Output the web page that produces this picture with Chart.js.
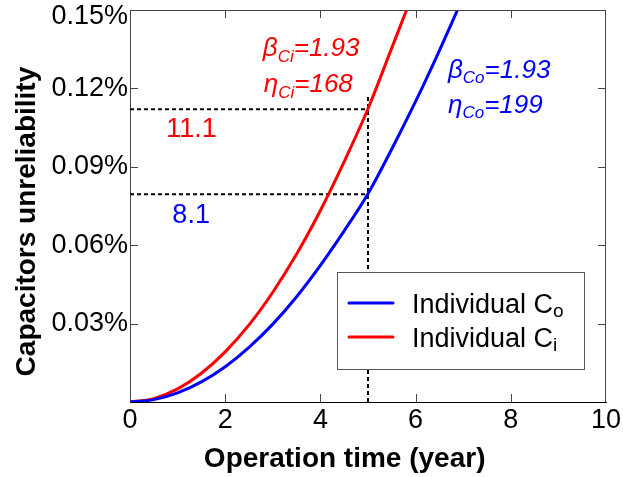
<!DOCTYPE html>
<html><head><meta charset="utf-8">
<script src="https://cdn.jsdelivr.net/npm/chart.js@4.4.1/dist/chart.umd.min.js"></script>
<style>html,body{margin:0;padding:0;background:#fff}</style>
</head><body>
<canvas id="c" width="623" height="477" style="display:block;width:623px;height:477px"></canvas>
<script>
// ---- data ----
const timeCo  = [0, 0.5, 1, 1.5, 2, 2.5, 3, 3.5, 4, 4.5, 5, 5.5, 6, 6.5, 6.88];
const unrelCo = [0, 0.0009, 0.0035, 0.0077, 0.0135, 0.0209, 0.0298, 0.0403, 0.0523, 0.0655, 0.0797, 0.0968, 0.1150, 0.1345, 0.1500];
const timeCi  = [0, 0.5, 1, 1.5, 2, 2.5, 3, 3.5, 4, 4.5, 5, 5.5, 5.81];
const unrelCi = [0, 0.0013, 0.0050, 0.0110, 0.0192, 0.0295, 0.0420, 0.0566, 0.0733, 0.0920, 0.1122, 0.1355, 0.1500];
const refTime = 5;
const refCi = 0.1120;
const refCo = 0.0795;
const refTop = 0.1175;
const xTicks = [0, 2, 4, 6, 8, 10];
const yTicks = [0, 0.03, 0.06, 0.09, 0.12, 0.15];
const seriesLabels = ['Individual Co', 'Individual Ci'];
const refLabelCi = '11.1';
const refLabelCo = '8.1';

const FONT = "'Liberation Sans', Arial, Helvetica, sans-serif";
const toXY = (xs, ys) => xs.map((v, i) => ({x: v, y: ys[i]}));
const yMax = yTicks[yTicks.length - 1];

const decor = {
  id: 'decor',
  afterDatasetsDraw(chart) {
    const {ctx, chartArea: a, scales: {x, y}} = chart;
    ctx.save();
    ctx.strokeStyle = '#444';
    ctx.lineWidth = 1;
    ctx.beginPath();
    ctx.moveTo(a.left, a.top + 0.5); ctx.lineTo(a.right, a.top + 0.5);
    ctx.moveTo(a.right - 0.5, a.top); ctx.lineTo(a.right - 0.5, a.bottom);
    xTicks.slice(1, -1).forEach(v => {
      const px = Math.round(x.getPixelForValue(v)) + 0.5;
      ctx.moveTo(px, a.bottom); ctx.lineTo(px, a.bottom - 8);
      ctx.moveTo(px, a.top); ctx.lineTo(px, a.top + 8);
    });
    yTicks.slice(1, -1).forEach(v => {
      const py = Math.round(y.getPixelForValue(v)) + 0.5;
      ctx.moveTo(a.left, py); ctx.lineTo(a.left + 8, py);
      ctx.moveTo(a.right, py); ctx.lineTo(a.right - 8, py);
    });
    ctx.stroke();

    // annotations
    const drawParts = (parts, px, py, color) => {
      ctx.fillStyle = color;
      ctx.textAlign = 'left';
      ctx.textBaseline = 'alphabetic';
      let cx = px;
      parts.forEach(p => {
        ctx.font = p.f;
        ctx.fillText(p.t, cx, py + (p.dy || 0));
        cx += ctx.measureText(p.t).width;
      });
    };
    const it = "italic 26px " + FONT, sub = "italic 17px " + FONT, reg = "27px " + FONT;
    drawParts([{t: 'β', f: it}, {t: 'Ci', f: sub, dy: 6}, {t: '=1.93', f: it}], x.getPixelForValue(2.79), y.getPixelForValue(0.1325), '#ff0000');
    drawParts([{t: 'η', f: it}, {t: 'Ci', f: sub, dy: 6}, {t: '=168', f: it}], x.getPixelForValue(2.81), y.getPixelForValue(0.1187), '#ff0000');
    drawParts([{t: 'β', f: it}, {t: 'Co', f: sub, dy: 5}, {t: '=1.93', f: it}], x.getPixelForValue(6.68), y.getPixelForValue(0.1240), '#0000ff');
    drawParts([{t: 'η', f: it}, {t: 'Co', f: sub, dy: 5}, {t: '=199', f: it}], x.getPixelForValue(6.68), y.getPixelForValue(0.1106), '#0000ff');
    drawParts([{t: refLabelCi, f: reg}], x.getPixelForValue(0.76), y.getPixelForValue(0.1014), '#ff0000');
    drawParts([{t: refLabelCo, f: reg}], x.getPixelForValue(0.89), y.getPixelForValue(0.0685), '#0000ff');

    // legend
    const lx = a.left + 207, ly = a.top + 262, lw = 247, lh = 97;
    ctx.fillStyle = '#fff';
    ctx.fillRect(lx, ly, lw, lh);
    ctx.strokeStyle = '#555';
    ctx.lineWidth = 1;
    ctx.strokeRect(lx + 0.5, ly + 0.5, lw, lh);
    const entries = [
      {c: '#0000ff', main: 'Individual C', s: 'o', yy: ly + 31},
      {c: '#ff0000', main: 'Individual C', s: 'i', yy: ly + 65}
    ];
    entries.forEach(e => {
      ctx.strokeStyle = e.c; ctx.lineWidth = 3; ctx.lineCap = 'round';
      ctx.beginPath(); ctx.moveTo(lx + 12, e.yy); ctx.lineTo(lx + 56, e.yy); ctx.stroke();
      drawParts([{t: e.main, f: reg}, {t: e.s, f: "19px " + FONT, dy: 4}], lx + 75, e.yy + 10, '#000');
    });
    ctx.restore();
  }
};

new Chart(document.getElementById('c'), {
  type: 'line',
  data: {
    datasets: [
      {label: seriesLabels[0], data: toXY(timeCo, unrelCo), borderColor: '#0000ff', borderWidth: 3, pointRadius: 0, cubicInterpolationMode: 'monotone', fill: false},
      {label: seriesLabels[1], data: toXY(timeCi, unrelCi), borderColor: '#ff0000', borderWidth: 3, pointRadius: 0, cubicInterpolationMode: 'monotone', fill: false},
      {label: 'ref Ci', data: [{x: 0, y: refCi}, {x: refTime, y: refCi}], borderColor: '#000', borderWidth: 2, borderDash: [4, 3], pointRadius: 0},
      {label: 'ref Co', data: [{x: 0, y: refCo}, {x: refTime, y: refCo}], borderColor: '#000', borderWidth: 2, borderDash: [4, 3], pointRadius: 0},
      {label: 'ref t', data: [{x: refTime, y: 0}, {x: refTime, y: refTop}], borderColor: '#000', borderWidth: 2, borderDash: [4, 3], pointRadius: 0}
    ]
  },
  options: {
    responsive: false,
    animation: false,
    devicePixelRatio: 1,
    layout: {padding: {left: 0, top: 10, right: 17, bottom: 0}},
    plugins: {legend: {display: false}, tooltip: {enabled: false}},
    scales: {
      x: {
        type: 'linear', min: 0, max: 10,
        afterBuildTicks: s => { s.ticks = xTicks.map(v => ({value: v})); },
        afterFit: s => { s.height = 75; s.paddingLeft = 0; s.paddingRight = 0; },
        grid: {display: false, drawTicks: false},
        border: {display: true, color: '#000', width: 1},
        ticks: {color: '#000', padding: 2, font: {family: FONT, size: 27}},
        title: {display: true, text: 'Operation time (year)      ', color: '#000', font: {family: FONT, size: 28, weight: 'bold'}, padding: {top: 0, bottom: 1}}
      },
      y: {
        type: 'linear', min: 0, max: yMax,
        afterBuildTicks: s => { s.ticks = yTicks.map(v => ({value: v})); },
        afterFit: s => { s.width = 130; s.paddingTop = 0; s.paddingBottom = 0; },
        grid: {display: false, drawTicks: false},
        border: {display: true, color: '#444', width: 1},
        ticks: {
          color: '#000', padding: 2,
          font: c => ({family: FONT, size: 27, lineHeight: (c.tick && c.tick.value === yMax) ? '14px' : 1.2}),
          callback: v => v === 0 ? '' : (v === yMax ? ['', v.toFixed(2) + '%'] : v.toFixed(2) + '%')
        },
        title: {display: true, text: 'Capacitors unreliability    ', color: '#000', font: {family: FONT, size: 28, weight: 'bold'}, padding: {top: 10, bottom: 0}}
      }
    }
  },
  plugins: [decor]
});
</script>
</body></html>
